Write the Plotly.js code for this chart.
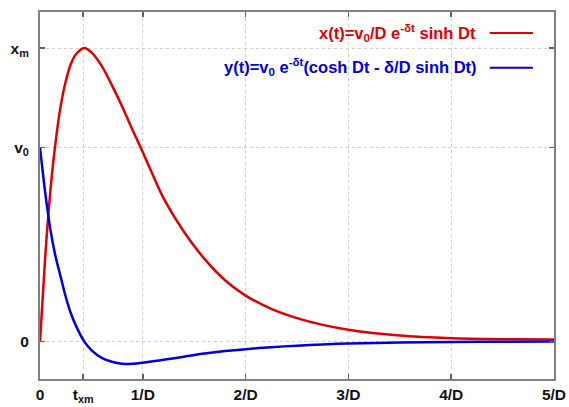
<!DOCTYPE html>
<html>
<head>
<meta charset="utf-8">
<script src="https://cdn.plot.ly/plotly-3.0.1.min.js"></script>
<style>html,body{margin:0;padding:0;background:#fff;}#chart{width:569px;height:407px;}</style>
</head>
<body>
<div id="chart"></div>
<script>
// time in units of 1/D
const tValues = [0, 0.05, 0.1, 0.15, 0.2, 0.25, 0.3, 0.35, 0.43, 0.5, 0.6, 0.7, 0.8, 0.9, 1.0, 1.1, 1.2, 1.4, 1.6, 1.8, 2.0, 2.25, 2.5, 2.75, 3.0, 3.5, 4.0, 4.5, 5.0];
// x(t) (red), in y-units where v0 = 1, xm = 1.512
const xSeries = [0, 0.43, 0.77, 1.02, 1.21, 1.34, 1.43, 1.48, 1.512, 1.49, 1.42, 1.32, 1.21, 1.09, 0.975, 0.855, 0.74, 0.565, 0.425, 0.315, 0.236, 0.168, 0.12, 0.085, 0.06, 0.03, 0.016, 0.011, 0.009];
// y(t) (blue)
const ySeries = [1, 0.77, 0.58, 0.44, 0.335, 0.23, 0.145, 0.08, 0, -0.045, -0.085, -0.105, -0.115, -0.116, -0.11, -0.103, -0.095, -0.079, -0.063, -0.05, -0.04, -0.03, -0.022, -0.016, -0.011, -0.006, -0.003, -0.0015, -0.0008];

const xTickVals = [0, 0.42, 1, 2, 3, 4, 5];
const xTickText = ['0', 't<sub>xm</sub>', '1/D', '2/D', '3/D', '4/D', '5/D'];
const yTickVals = [0, 1, 1.512];
const yTickText = ['0', 'v<sub>0</sub>', 'x<sub>m</sub>'];

const legendX = 'x(t)=v<sub>0</sub>/D e<sup>-δt</sup> sinh Dt';
const legendY = 'y(t)=v<sub>0</sub> e<sup>-δt</sup>(cosh Dt - δ/D sinh Dt)';

const RED = '#e00000';
const BLUE = '#0000dd';

const traces = [
  {x: tValues, y: xSeries, mode: 'lines', line: {color: RED, width: 2.5, shape: 'spline', smoothing: 0.8}, showlegend: false, hoverinfo: 'skip'},
  {x: tValues, y: ySeries, mode: 'lines', line: {color: BLUE, width: 2.5, shape: 'spline', smoothing: 0.8}, showlegend: false, hoverinfo: 'skip'}
];

const tickFont = {family: 'Liberation Sans, Arial, sans-serif', size: 15.5, color: '#111', weight: 'bold'};

const layout = {
  width: 569, height: 407,
  margin: {l: 40, r: 15, t: 12, b: 28},
  paper_bgcolor: '#fff', plot_bgcolor: '#fff',
  xaxis: {
    range: [0, 5], tickvals: xTickVals, ticktext: xTickText,
    showgrid: true, gridcolor: '#cfcfcf', griddash: 'dot', gridwidth: 1,
    zeroline: false, showline: true, linecolor: '#808080', linewidth: 2, mirror: 'ticks',
    ticks: 'inside', ticklen: 5, tickcolor: '#606060', tickwidth: 1.5,
    tickfont: tickFont, ticklabelstandoff: 0
  },
  yaxis: {
    range: [-0.194, 1.698], tickvals: yTickVals, ticktext: yTickText,
    showgrid: true, gridcolor: '#cfcfcf', griddash: 'dot', gridwidth: 1,
    zeroline: false, showline: true, linecolor: '#808080', linewidth: 2, mirror: 'ticks',
    ticks: 'inside', ticklen: 5, tickcolor: '#606060', tickwidth: 1.5,
    tickfont: tickFont, ticklabelstandoff: 6
  },
  annotations: [
    {xref: 'paper', yref: 'paper', x: 0.852, y: 0.943, xanchor: 'right', yanchor: 'middle', text: legendX, showarrow: false,
     font: {family: 'Liberation Sans, Arial, sans-serif', size: 16.5, color: RED, weight: 'bold'}},
    {xref: 'paper', yref: 'paper', x: 0.854, y: 0.850, xanchor: 'right', yanchor: 'middle', text: legendY, showarrow: false,
     font: {family: 'Liberation Sans, Arial, sans-serif', size: 16.5, color: BLUE, weight: 'bold'}}
  ],
  shapes: [
    {type: 'line', xref: 'paper', yref: 'paper', x0: 0.875, x1: 0.959, y0: 0.943, y1: 0.943, line: {color: RED, width: 2}},
    {type: 'line', xref: 'paper', yref: 'paper', x0: 0.875, x1: 0.959, y0: 0.848, y1: 0.848, line: {color: BLUE, width: 2}}
  ]
};

Plotly.newPlot('chart', traces, layout, {displayModeBar: false, staticPlot: true});
</script>
</body>
</html>
